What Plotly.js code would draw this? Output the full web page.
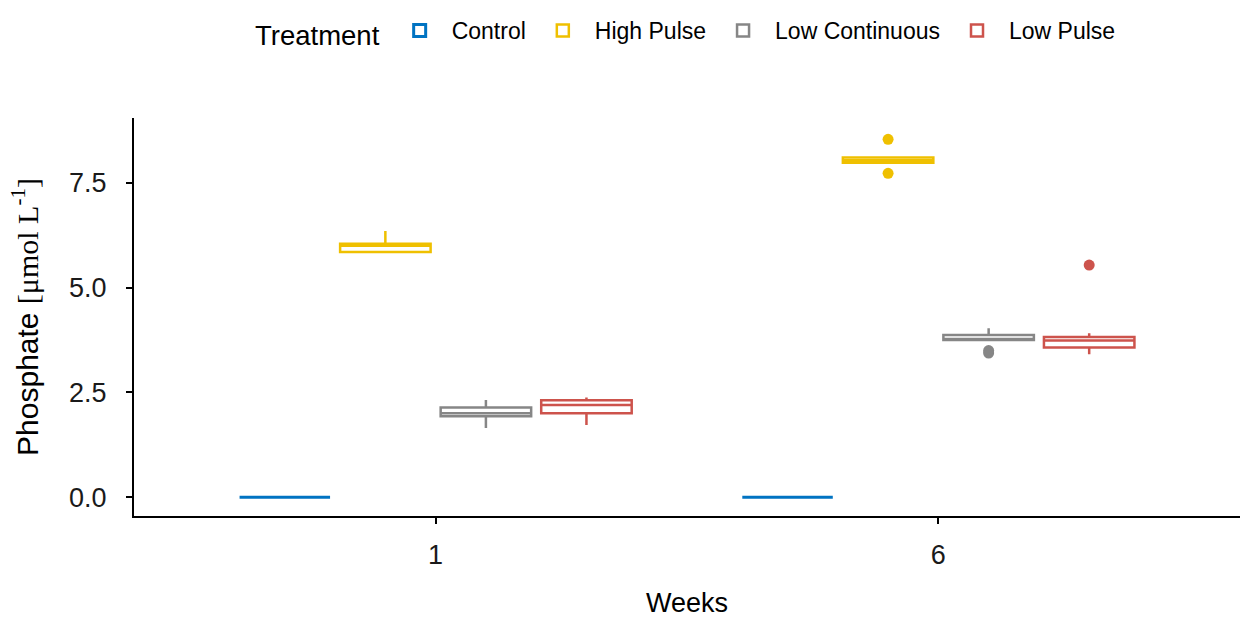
<!DOCTYPE html>
<html>
<head>
<meta charset="utf-8">
<script src="https://cdn.plot.ly/plotly-3.0.1.min.js"></script>
<style>
  html, body { margin: 0; padding: 0; background: #ffffff; }
  #chart { width: 1242px; height: 619px; }
</style>
</head>
<body>
<div id="chart"></div>
<script>
// ---- Data ----
const weekLabels = ['1', '6'];
const treatments = ['Control', 'High Pulse', 'Low Continuous', 'Low Pulse'];
const colors = ['#0073C2', '#EFC000', '#868686', '#CD534C'];

// phosphate samples per treatment and week (µmol L-1)
const controlWeek1 = [0, 0, 0, 0, 0, 0, 0, 0, 0];
const controlWeek6 = [0, 0, 0, 0, 0, 0, 0, 0, 0];
const highPulseWeek1 = [5.85, 5.85, 5.85, 5.95, 6.00, 6.03, 6.05, 6.10, 6.35];
const highPulseWeek6 = [7.73, 7.96, 7.98, 8.01, 8.04, 8.08, 8.11, 8.13, 8.54];
const lowContinuousWeek1 = [1.65, 1.90, 1.93, 1.97, 2.00, 2.08, 2.14, 2.20, 2.32];
const lowContinuousWeek6 = [3.44, 3.50, 3.75, 3.76, 3.76, 3.82, 3.87, 3.95, 4.03];
const lowPulseWeek1 = [1.72, 1.95, 2.00, 2.10, 2.20, 2.25, 2.31, 2.35, 2.38];
const lowPulseWeek6 = [3.41, 3.50, 3.57, 3.65, 3.74, 3.78, 3.82, 3.91, 5.54];

const yTickValues = [0, 2.5, 5, 7.5];
const yTickLabels = ['0.0', '2.5', '5.0', '7.5'];

const seriesByTreatment = [
  [controlWeek1, controlWeek6],
  [highPulseWeek1, highPulseWeek6],
  [lowContinuousWeek1, lowContinuousWeek6],
  [lowPulseWeek1, lowPulseWeek6]
];

const lineWidths = [3, 2.5, 2.5, 2.5];

const traces = treatments.map(function (name, i) {
  const xs = [];
  const ys = [];
  seriesByTreatment[i].forEach(function (vals, w) {
    vals.forEach(function (v) { xs.push(weekLabels[w]); ys.push(v); });
  });
  return {
    type: 'box',
    name: name,
    x: xs,
    y: ys,
    quartilemethod: 'inclusive',
    boxpoints: 'outliers',
    jitter: 0,
    pointpos: 0,
    whiskerwidth: 0,
    fillcolor: 'rgba(255,255,255,1)',
    line: { color: colors[i], width: lineWidths[i] },
    marker: { color: colors[i], size: 11, line: { width: 0 } },
    hoverinfo: 'skip'
  };
});

const layout = {
  width: 1242,
  height: 619,
  margin: { l: 134, r: 2, t: 118, b: 103 },
  paper_bgcolor: '#ffffff',
  plot_bgcolor: '#ffffff',
  font: { family: 'Liberation Sans, Arial, sans-serif', color: '#000000', size: 24 },
  boxmode: 'group',
  boxgap: 0.2,
  boxgroupgap: 0.1,
  showlegend: true,
  legend: {
    orientation: 'h',
    x: 0.5,
    xanchor: 'center',
    y: 1.216,
    yanchor: 'middle',
    font: { size: 23, color: '#000000' },
    title: { text: 'Treatment', side: 'left', font: { size: 27.5, color: '#000000' } },
    itemwidth: 54,
    traceorder: 'normal'
  },
  xaxis: {
    type: 'category',
    categoryorder: 'array',
    categoryarray: weekLabels,
    range: [-0.6, 1.6],
    showgrid: false,
    zeroline: false,
    showline: true,
    linecolor: '#000000',
    linewidth: 2,
    ticks: 'outside',
    ticklen: 6,
    tickwidth: 2,
    tickcolor: '#000000',
    ticklabelstandoff: 8,
    tickfont: { size: 27, color: '#1a1a1a' },
    title: { text: 'Weeks', font: { size: 27, color: '#000000' }, standoff: 24 }
  },
  yaxis: {
    range: [-0.45, 9.05],
    tickmode: 'array',
    tickvals: yTickValues,
    ticktext: yTickLabels,
    showgrid: false,
    zeroline: false,
    showline: true,
    linecolor: '#000000',
    linewidth: 2,
    ticks: 'outside',
    ticklen: 6,
    tickwidth: 2,
    tickcolor: '#000000',
    ticklabelstandoff: 14,
    tickfont: { size: 27, color: '#1a1a1a' },
    title: {
      text: 'Phosphate <span style="font-family:Liberation Serif, serif">[μmol L<sup>-1</sup>]</span>',
      font: { size: 30, color: '#000000' },
      standoff: 22
    }
  }
};

Plotly.newPlot('chart', traces, layout, { displayModeBar: false, staticPlot: true });
</script>
</body>
</html>
